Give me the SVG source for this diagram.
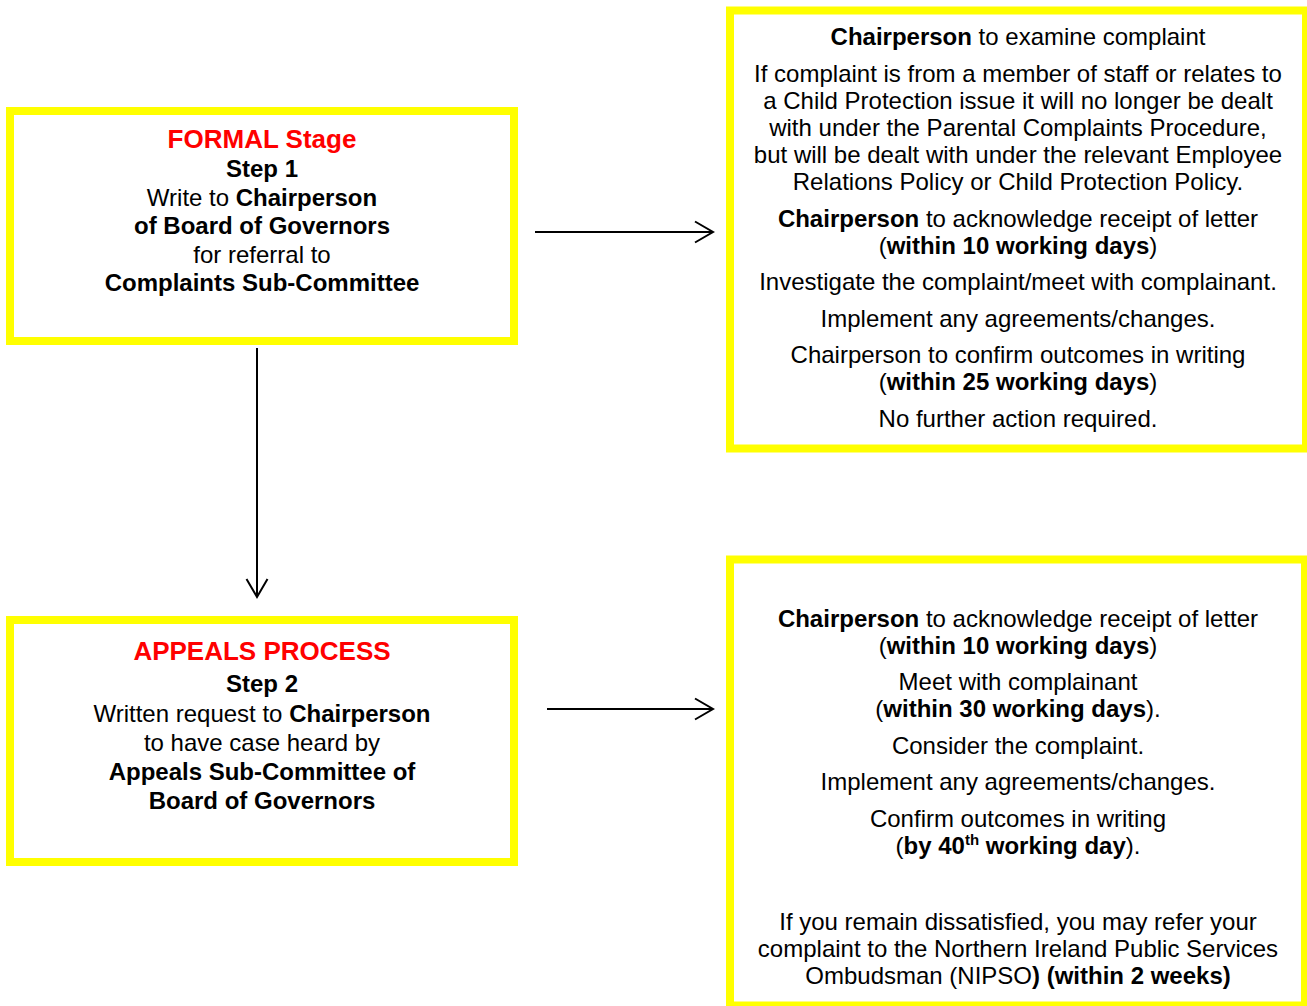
<svg xmlns="http://www.w3.org/2000/svg" width="1307" height="1006" viewBox="0 0 1307 1006">
<defs>
<style>
.box{fill:#FFFFFF;stroke:#FFFF00;stroke-width:8}
text{font-family:"Liberation Sans",Arial,sans-serif;font-size:24px;fill:#000000;text-anchor:middle}
.b{font-weight:bold}
.head{font-weight:bold;fill:#FF0000;font-size:26px}
.sup{font-size:15px;font-weight:bold}
.conn{stroke:#000000;stroke-width:2;fill:none}
</style>
<marker id="arr" markerWidth="20" markerHeight="24" refX="18" refY="11" orient="auto" markerUnits="userSpaceOnUse" overflow="visible">
<path d="M0,0.5 L18,11 L0,21.5" fill="none" stroke="#000000" stroke-width="2"/>
</marker>
</defs>
<rect x="0" y="0" width="1307" height="1006" fill="#FFFFFF"/>

<g id="formal">
<rect class="box" x="10" y="111" width="504" height="230"/>
<text x="262" y="148" class="head">FORMAL Stage</text>
<text x="262" y="177" class="b">Step 1</text>
<text x="262" y="206">Write to <tspan class="b">Chairperson</tspan></text>
<text x="262" y="234" class="b">of Board of Governors</text>
<text x="262" y="263">for referral to</text>
<text x="262" y="291" class="b">Complaints Sub-Committee</text>
</g>

<g id="appeals">
<rect class="box" x="10" y="620" width="504" height="242"/>
<text x="262" y="660" class="head">APPEALS PROCESS</text>
<text x="262" y="692" class="b">Step 2</text>
<text x="262" y="722">Written request to <tspan class="b">Chairperson</tspan></text>
<text x="262" y="751">to have case heard by</text>
<text x="262" y="780" class="b">Appeals Sub-Committee of</text>
<text x="262" y="809" class="b">Board of Governors</text>
</g>

<g id="formal-details">
<rect class="box" x="730" y="10.5" width="576" height="438"/>
<text x="1018" y="45"><tspan class="b">Chairperson</tspan> to examine complaint</text>
<text x="1018" y="82">If complaint is from a member of staff or relates to</text>
<text x="1018" y="109">a Child Protection issue it will no longer be dealt</text>
<text x="1018" y="136">with under the Parental Complaints Procedure,</text>
<text x="1018" y="163">but will be dealt with under the relevant Employee</text>
<text x="1018" y="190">Relations Policy or Child Protection Policy.</text>
<text x="1018" y="226.5"><tspan class="b">Chairperson</tspan> to acknowledge receipt of letter</text>
<text x="1018" y="253.5">(<tspan class="b">within 10 working days</tspan>)</text>
<text x="1018" y="290">Investigate the complaint/meet with complainant.</text>
<text x="1018" y="327">Implement any agreements/changes.</text>
<text x="1018" y="363">Chairperson to confirm outcomes in writing</text>
<text x="1018" y="390">(<tspan class="b">within 25 working days</tspan>)</text>
<text x="1018" y="427">No further action required.</text>
</g>

<g id="appeals-details">
<rect class="box" x="730" y="559.5" width="575" height="446"/>
<text x="1018" y="626.5"><tspan class="b">Chairperson</tspan> to acknowledge receipt of letter</text>
<text x="1018" y="653.5">(<tspan class="b">within 10 working days</tspan>)</text>
<text x="1018" y="690">Meet with complainant</text>
<text x="1018" y="717">(<tspan class="b">within 30 working days</tspan>).</text>
<text x="1018" y="753.5">Consider the complaint.</text>
<text x="1018" y="790">Implement any agreements/changes.</text>
<text x="1018" y="826.5">Confirm outcomes in writing</text>
<text x="1018" y="853.5">(<tspan class="b">by 40</tspan><tspan class="sup" dy="-9">th</tspan><tspan class="b" dy="9"> working day</tspan>).</text>
<text x="1018" y="930">If you remain dissatisfied, you may refer your</text>
<text x="1018" y="957">complaint to the Northern Ireland Public Services</text>
<text x="1018" y="984">Ombudsman (NIPSO<tspan class="b">) (within 2 weeks)</tspan></text>
</g>

<g id="connectors">
<line class="conn" x1="535" y1="232" x2="713" y2="232" marker-end="url(#arr)"/>
<line class="conn" x1="547" y1="709" x2="713" y2="709" marker-end="url(#arr)"/>
<line class="conn" x1="257" y1="348" x2="257" y2="597" marker-end="url(#arr)"/>
</g>
</svg>
